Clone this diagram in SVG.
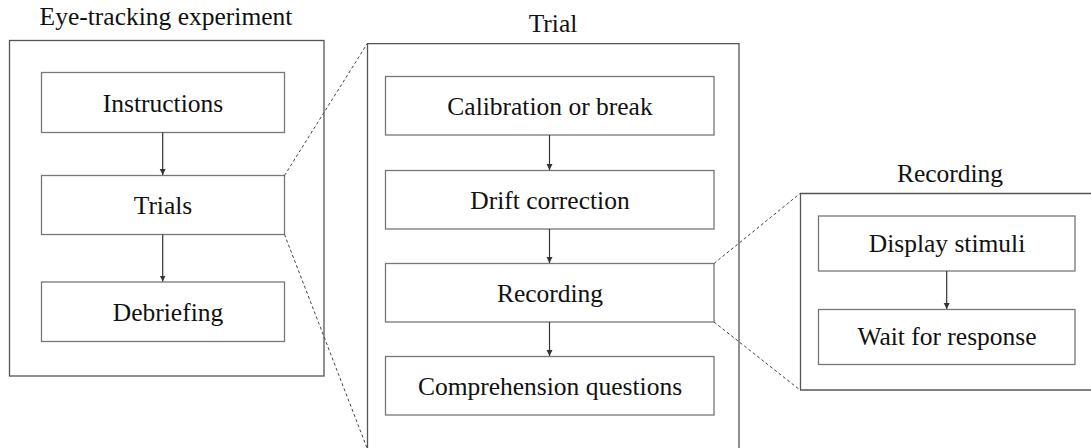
<svg xmlns="http://www.w3.org/2000/svg" width="1091" height="448" viewBox="0 0 1091 448">
<defs>
<style>
.frame{fill:none;stroke:#555;stroke-width:1.3}
.box{fill:#fff;stroke:#777;stroke-width:1.3}
.t{font-family:'Liberation Serif','Times New Roman',Times,'DejaVu Serif',serif;font-size:25.5px;fill:#111;text-anchor:middle}
.arrow{stroke:#333;stroke-width:1.2;fill:none;marker-end:url(#ah)}
.zoom{stroke:#444;stroke-width:1;stroke-dasharray:3,2.5;fill:none}
</style>
<marker id="ah" markerWidth="8" markerHeight="8" refX="6" refY="3" orient="auto" markerUnits="userSpaceOnUse">
<path d="M0,0 L6,3 L0,6 Z" fill="#333"/>
</marker>
</defs>
<rect width="1091" height="448" fill="#fff"/>
<g id="experiment">
<rect class="frame" x="9.5" y="40.5" width="314.5" height="335.5"/>
<text class="t" x="166" y="25">Eye-tracking experiment</text>
</g>
<g id="instructions"><rect class="box" x="41.5" y="72.5" width="243" height="60"/><text class="t" x="163" y="111.5">Instructions</text></g>
<g id="trials"><rect class="box" x="41.5" y="175.5" width="243" height="59"/><text class="t" x="163" y="214">Trials</text></g>
<g id="debriefing"><rect class="box" x="41.5" y="282" width="243" height="59.5"/><text class="t" x="168" y="321">Debriefing</text></g>
<g id="trial">
<path class="frame" d="M367.5,449 V43.7 H739 V449"/>
<text class="t" x="553" y="32">Trial</text>
</g>
<g id="calibration"><rect class="box" x="385.5" y="76.5" width="328.5" height="58.5"/><text class="t" x="550" y="115">Calibration or break</text></g>
<g id="drift"><rect class="box" x="385.5" y="170.5" width="328.5" height="58.5"/><text class="t" x="550" y="209">Drift correction</text></g>
<g id="recording-step"><rect class="box" x="385.5" y="263.5" width="328.5" height="58.5"/><text class="t" x="550" y="302">Recording</text></g>
<g id="comprehension"><rect class="box" x="385.5" y="356.5" width="328.5" height="58.5"/><text class="t" x="550" y="395">Comprehension questions</text></g>
<g id="recording">
<path class="frame" d="M1092,193.5 H800.5 V390 H1092"/>
<text class="t" x="950" y="181.5">Recording</text>
</g>
<g id="display"><rect class="box" x="818.5" y="216" width="256.5" height="55"/><text class="t" x="947" y="252">Display stimuli</text></g>
<g id="wait"><rect class="box" x="818.5" y="309.5" width="256.5" height="55"/><text class="t" x="947" y="345">Wait for response</text></g>
<g id="connectors">
<line class="arrow" x1="162.7" y1="132.5" x2="162.7" y2="175"/>
<line class="arrow" x1="162.7" y1="234.5" x2="162.7" y2="281.5"/>
<line class="arrow" x1="549.5" y1="135" x2="549.5" y2="170"/>
<line class="arrow" x1="549.5" y1="229" x2="549.5" y2="263"/>
<line class="arrow" x1="549.5" y1="322" x2="549.5" y2="356"/>
<line class="arrow" x1="946.7" y1="271" x2="946.7" y2="309"/>
<line class="zoom" x1="284.5" y1="175.5" x2="367" y2="44"/>
<line class="zoom" x1="284.5" y1="234.5" x2="367" y2="448"/>
<line class="zoom" x1="714" y1="263.5" x2="800" y2="193.5"/>
<line class="zoom" x1="714" y1="322" x2="800" y2="390"/>
</g>
</svg>
